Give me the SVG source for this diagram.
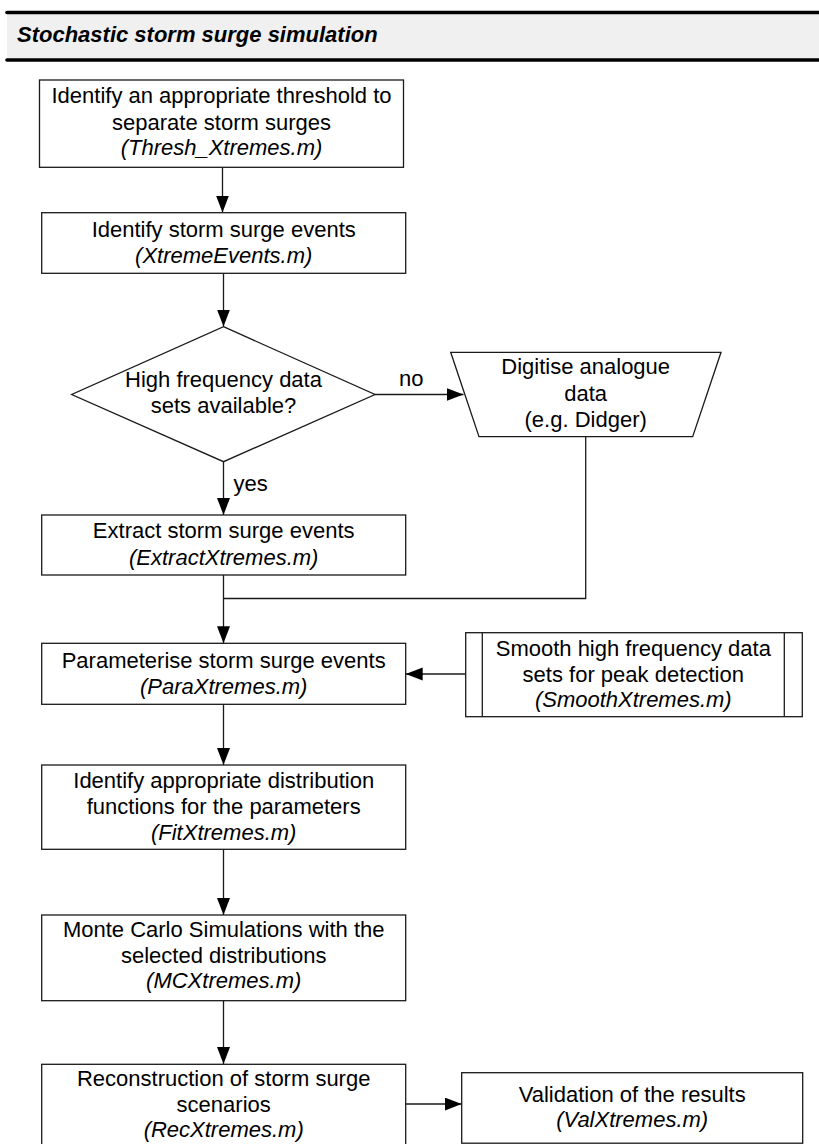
<svg xmlns="http://www.w3.org/2000/svg" width="819" height="1144" viewBox="0 0 819 1144">
  <style>
    .box { fill: #ffffff; stroke: #1a1a1a; stroke-width: 1.3; }
    .t { font-family: "Liberation Sans", Arial, sans-serif; font-size: 22px; fill: #000000; text-anchor: middle; }
    .i { font-style: italic; }
    .lbl { font-family: "Liberation Sans", Arial, sans-serif; font-size: 22px; fill: #000000; }
    .conn { fill: none; stroke: #1a1a1a; stroke-width: 1.3; }
    .arr { marker-end: url(#head); }
  </style>
  <defs>
    <marker id="head" markerUnits="userSpaceOnUse" markerWidth="18" markerHeight="14" refX="17" refY="6.5" orient="auto">
      <path d="M0,0 L17,6.5 L0,13 Z" fill="#000000"/>
    </marker>
  </defs>

  <rect width="819" height="1144" fill="#ffffff"/>

  <!-- title bar -->
  <g id="header">
    <rect x="7" y="13" width="812" height="46" fill="#f0f0f0"/>
    <line x1="7" y1="12.5" x2="819" y2="12.5" stroke="#000000" stroke-width="3.6" stroke-linecap="round"/>
    <line x1="7" y1="60" x2="819" y2="60" stroke="#000000" stroke-width="3.6" stroke-linecap="round"/>
    <text x="17" y="41.5" font-family="Liberation Sans, Arial, sans-serif" font-size="22" font-weight="bold" font-style="italic" fill="#000000">Stochastic storm surge simulation</text>
  </g>

  <!-- connectors -->
  <g id="connectors">
    <path class="conn arr" d="M222.5,167.5 V212.5"/>
    <path class="conn arr" d="M223.5,273.5 V326.5"/>
    <path class="conn arr" d="M375,394.5 H463.5"/>
    <path class="conn arr" d="M223.5,462 V515"/>
    <path class="conn arr" d="M223.5,575 V643.3"/>
    <path class="conn" d="M585.7,436.7 V598.5 H223.5"/>
    <path class="conn arr" d="M465.7,674 H405.7"/>
    <path class="conn arr" d="M223.5,704.3 V765"/>
    <path class="conn arr" d="M223.5,849.3 V915"/>
    <path class="conn arr" d="M223.5,1000.7 V1064"/>
    <path class="conn arr" d="M405.7,1104 H461.7"/>
    <text class="lbl" x="399" y="386">no</text>
    <text class="lbl" x="233.5" y="491">yes</text>
  </g>

  <g id="threshold">
    <rect class="box" x="39.5" y="80" width="364" height="87.3"/>
    <text class="t" x="221.5" y="103.3">Identify an appropriate threshold to</text>
    <text class="t" x="221.5" y="129.5">separate storm surges</text>
    <text class="t i" x="221.5" y="155.3">(Thresh_Xtremes.m)</text>
  </g>

  <g id="events">
    <rect class="box" x="41.7" y="212.7" width="364" height="60.6"/>
    <text class="t" x="223.7" y="236.7">Identify storm surge events</text>
    <text class="t i" x="223.7" y="262.5">(XtremeEvents.m)</text>
  </g>

  <g id="decision">
    <polygon class="box" points="223.5,326.7 375,394.5 223.5,461.7 71.7,394.5"/>
    <text class="t" x="223.5" y="387.3">High frequency data</text>
    <text class="t" x="223.5" y="412.7">sets available?</text>
  </g>

  <g id="digitise">
    <polygon class="box" points="450.7,352.3 721,352.3 692.7,436.7 479,436.7"/>
    <text class="t" x="585.7" y="374">Digitise analogue</text>
    <text class="t" x="585.7" y="400.5">data</text>
    <text class="t" x="585.7" y="426.5">(e.g. Didger)</text>
  </g>

  <g id="extract">
    <rect class="box" x="41.7" y="515" width="364" height="60"/>
    <text class="t" x="223.7" y="537.5">Extract storm surge events</text>
    <text class="t i" x="223.7" y="565">(ExtractXtremes.m)</text>
  </g>

  <g id="parameterise">
    <rect class="box" x="41.7" y="643.3" width="364" height="61"/>
    <text class="t" x="223.7" y="668.3">Parameterise storm surge events</text>
    <text class="t i" x="223.7" y="694">(ParaXtremes.m)</text>
  </g>

  <g id="smooth">
    <rect class="box" x="465.7" y="632.7" width="336.6" height="84"/>
    <line class="conn" x1="482.3" y1="632.7" x2="482.3" y2="716.7"/>
    <line class="conn" x1="784.3" y1="632.7" x2="784.3" y2="716.7"/>
    <text class="t" x="633.3" y="655.7">Smooth high frequency data</text>
    <text class="t" x="633.3" y="682.3">sets for peak detection</text>
    <text class="t i" x="633.3" y="707.3">(SmoothXtremes.m)</text>
  </g>

  <g id="fit">
    <rect class="box" x="41.7" y="765" width="364" height="84.3"/>
    <text class="t" x="223.7" y="788.3">Identify appropriate distribution</text>
    <text class="t" x="223.7" y="814">functions for the parameters</text>
    <text class="t i" x="223.7" y="840">(FitXtremes.m)</text>
  </g>

  <g id="montecarlo">
    <rect class="box" x="41.7" y="915" width="364" height="85.7"/>
    <text class="t" x="223.7" y="937.3">Monte Carlo Simulations with the</text>
    <text class="t" x="223.7" y="962.7">selected distributions</text>
    <text class="t i" x="223.7" y="988.3">(MCXtremes.m)</text>
  </g>

  <g id="reconstruction">
    <rect class="box" x="41.7" y="1064.3" width="364" height="100"/>
    <text class="t" x="223.7" y="1086">Reconstruction of storm surge</text>
    <text class="t" x="223.7" y="1111.7">scenarios</text>
    <text class="t i" x="223.7" y="1136.7">(RecXtremes.m)</text>
  </g>

  <g id="validation">
    <rect class="box" x="461.7" y="1072.7" width="341" height="70.5"/>
    <text class="t" x="632.2" y="1101.7">Validation of the results</text>
    <text class="t i" x="632.2" y="1127">(ValXtremes.m)</text>
  </g>
</svg>
